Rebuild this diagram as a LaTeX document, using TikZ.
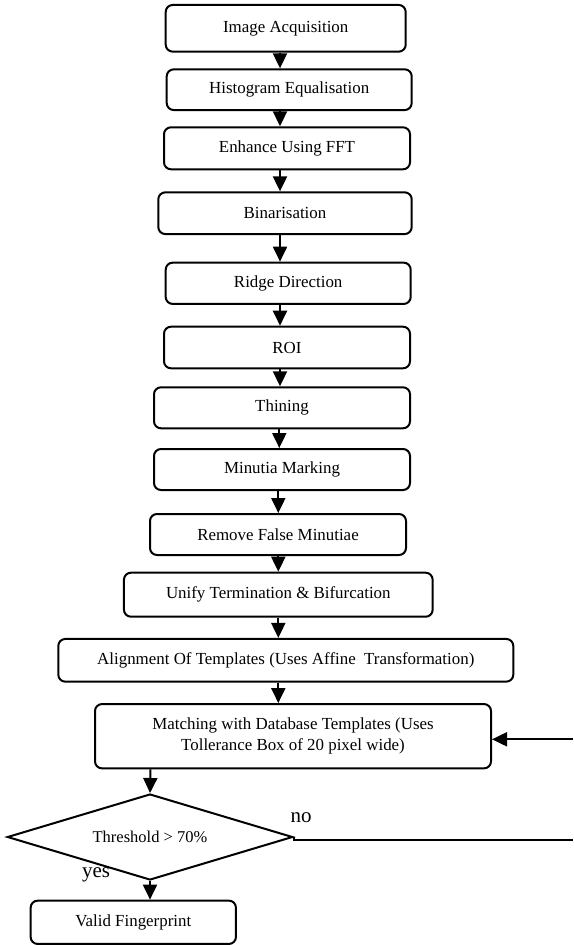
\documentclass[tikz,border=0pt]{standalone}
\usepackage{fontspec}
\setmainfont{Liberation Serif}
\usetikzlibrary{shapes.geometric,arrows.meta}
\begin{document}
\begin{tikzpicture}[x=1pt,y=-1pt,
  stepbox/.style={draw,line width=2pt,rounded corners=7pt,inner sep=0pt,
    font=\fontsize{16.9}{21}\selectfont,align=center},
  decision/.style={draw,line width=2pt,diamond,inner sep=0pt,
    font=\fontsize{16.5}{20}\selectfont},
  arr/.style={line width=2pt,-{Triangle[width=14pt,length=15pt]}},
  lbl/.style={font=\fontsize{21}{24}\selectfont,inner sep=0pt}]
\useasboundingbox (0,0) rectangle (573,945);
\node[stepbox,minimum width=240pt,minimum height=46.7pt] (s1) at (285.7,28.3) {Image Acquisition};
\node[stepbox,minimum width=245pt,minimum height=40.7pt] (s2) at (289.2,89.7) {Histogram Equalisation};
\node[stepbox,minimum width=246pt,minimum height=42pt] (s3) at (287,148.3) {Enhance Using FFT};
\node[stepbox,minimum width=253.4pt,minimum height=41.7pt] (s4) at (285,213.2) {Binarisation};
\node[stepbox,minimum width=245pt,minimum height=41.3pt] (s5) at (288.2,283.3) {Ridge Direction};
\node[stepbox,minimum width=246pt,minimum height=41.6pt] (s6) at (287,347.5) {ROI};
\node[stepbox,minimum width=256pt,minimum height=41pt] (s7) at (282,407.8) {Thining};
\node[stepbox,minimum width=256pt,minimum height=41pt] (s8) at (282,469.5) {Minutia Marking};
\node[stepbox,minimum width=256pt,minimum height=41pt] (s9) at (278,534.5) {Remove False Minutiae};
\node[stepbox,minimum width=308.7pt,minimum height=44pt] (s10) at (278.3,594.7) {Unify Termination \& Bifurcation};
\node[stepbox,minimum width=455pt,minimum height=42.7pt] (s11) at (285.8,660.3) {Alignment Of Templates (Uses Affine~ Transformation)};
\node[stepbox,minimum width=396pt,minimum height=64.3pt] (s12) at (293,736.2) {Matching with Database Templates (Uses\\Tollerance Box of 20 pixel wide)};
\node[decision,minimum width=285.4pt,minimum height=86pt,aspect=3.3] (d) at (150,837) {Threshold > 70\%};
\node[stepbox,minimum width=205.3pt,minimum height=43.3pt] (s13) at (133.3,922.3) {Valid Fingerprint};
\node[lbl] (no) at (301,818) {no};
\node[lbl] (yes) at (96,875) {yes};
\coordinate (ca) at (280,0);
\coordinate (cb) at (279.3,0);
\coordinate (cc) at (278.3,0);
\coordinate (cd) at (150.5,0);
\coordinate (fbin) at (573,739.3);
\coordinate (fbout) at (573,840);
\draw[arr] (s1.south -| ca) -- (s2.north -| ca);
\draw[arr] (s2.south -| ca) -- (s3.north -| ca);
\draw[arr] (s3.south -| ca) -- (s4.north -| ca);
\draw[arr] (s4.south -| ca) -- (s5.north -| ca);
\draw[arr] (s5.south -| ca) -- (s6.north -| ca);
\draw[arr] (s6.south -| ca) -- (s7.north -| ca);
\draw[arr] (s7.south -| cb) -- (s8.north -| cb);
\draw[arr] (s8.south -| cc) -- (s9.north -| cc);
\draw[arr] (s9.south -| cc) -- (s10.north -| cc);
\draw[arr] (s10.south -| cc) -- (s11.north -| cc);
\draw[arr] (s11.south -| cc) -- (s12.north -| cc);
\draw[arr] (s12.south -| cd) -- (d.north);
\draw[arr] (d.south) -- (s13.north -| d.south);
\draw[arr] (fbin) -- (s12.east |- fbin);
\draw[line width=2pt] (d.east) -- (d.east |- fbout) -- (fbout);
\end{tikzpicture}
\end{document}
